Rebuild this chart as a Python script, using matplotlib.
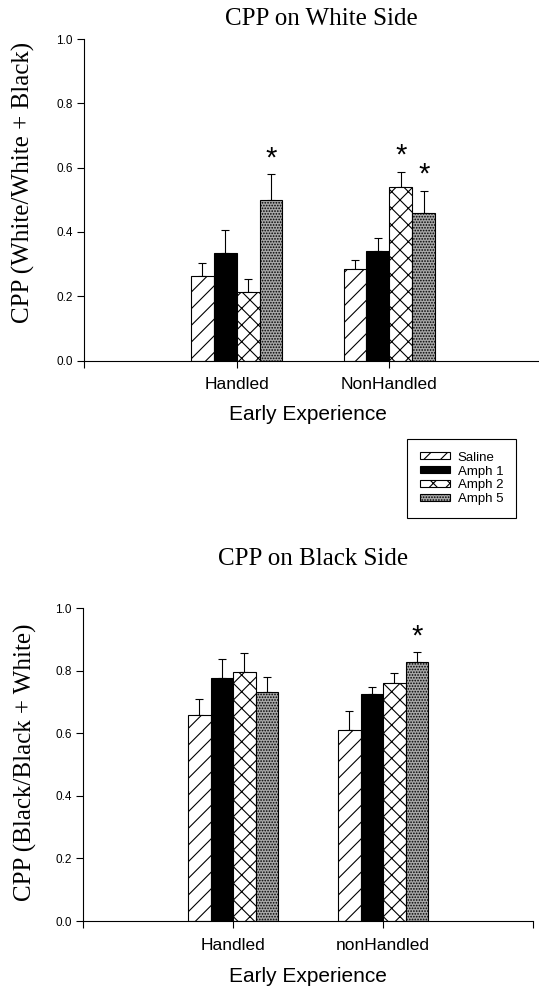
import numpy as np
import matplotlib
matplotlib.use("Agg")
import matplotlib.pyplot as plt

# groups and treatments
groups_white = ["Handled", "NonHandled"]
groups_black = ["Handled", "nonHandled"]
treatments = ["Saline", "Amph 1", "Amph 2", "Amph 5"]

# CPP on white side: means and upper error bar tops
white_mean = {
    "Saline": [0.263, 0.284],
    "Amph 1": [0.335, 0.340],
    "Amph 2": [0.214, 0.539],
    "Amph 5": [0.499, 0.458],
}
white_top = {
    "Saline": [0.302, 0.313],
    "Amph 1": [0.406, 0.382],
    "Amph 2": [0.253, 0.587],
    "Amph 5": [0.579, 0.528],
}
white_star = [("Amph 5", 0), ("Amph 2", 1), ("Amph 5", 1)]

# CPP on black side
black_mean = {
    "Saline": [0.660, 0.611],
    "Amph 1": [0.776, 0.727],
    "Amph 2": [0.797, 0.762],
    "Amph 5": [0.731, 0.829],
}
black_top = {
    "Saline": [0.711, 0.671],
    "Amph 1": [0.837, 0.747],
    "Amph 2": [0.858, 0.792],
    "Amph 5": [0.781, 0.860],
}
black_star = [("Amph 5", 1)]

styles = {
    "Saline": dict(facecolor="white", hatch="//"),
    "Amph 1": dict(facecolor="black", hatch=None),
    "Amph 2": dict(facecolor="white", hatch="xx"),
    "Amph 5": dict(facecolor="#a8a8a8", hatch="......"),
}

sans = "Liberation Sans"
serif = "Liberation Serif"
plt.rcParams["hatch.linewidth"] = 0.8

fig = plt.figure(figsize=(5.39, 9.89), dpi=100)


def panel(ax, groups, means, tops, stars):
    x = np.arange(1, len(groups) + 1)
    w = 0.15
    handles = []
    for i, t in enumerate(treatments):
        pos = x + (i - 1.5) * w
        m = np.array(means[t])
        e = np.array(tops[t]) - m
        st = styles[t]
        b = ax.bar(pos, m, w, facecolor=st["facecolor"], hatch=st["hatch"],
                   edgecolor="black", linewidth=0.8, label=t, zorder=2)
        ax.errorbar(pos, m, yerr=[np.zeros_like(e), e], fmt="none",
                    ecolor="black", elinewidth=0.8, capsize=3.2,
                    capthick=0.8, zorder=1)
        handles.append(b)
    for t, g in stars:
        i = treatments.index(t)
        ax.text(x[g] + (i - 1.5) * w, tops[t][g] + 0.05, "*",
                ha="center", va="center", fontsize=21, family=sans)
    ax.set_xlim(0, 3)
    ax.set_ylim(0, 1)
    ax.set_xticks([0, 1, 2, 3])
    ax.set_xticklabels([""] + groups + [""], fontsize=12.5, family=sans)
    ax.set_yticks(np.arange(0, 1.01, 0.2))
    ax.set_yticklabels(["%.1f" % v for v in np.arange(0, 1.01, 0.2)],
                       fontsize=8.5, family=sans)
    ax.tick_params(direction="out", length=5, width=0.8, pad=3)
    ax.tick_params(axis="x", pad=7)
    for s in ["top", "right"]:
        ax.spines[s].set_visible(False)
    for s in ["left", "bottom"]:
        ax.spines[s].set_linewidth(0.8)
    ax.patch.set_alpha(0)
    return handles


ax1 = fig.add_axes([84 / 539, 1 - 360.5 / 989, 458 / 539, 321.5 / 989])
h = panel(ax1, groups_white, white_mean, white_top, white_star)
ax2 = fig.add_axes([83 / 539, 1 - 921 / 989, 450 / 539, 312.7 / 989])
panel(ax2, groups_black, black_mean, black_top, black_star)

fig.text(321 / 539, 1 - 19 / 989, "CPP on White Side", ha="center",
         va="center", fontsize=18, family=serif)
fig.text(313 / 539, 1 - 559 / 989, "CPP on Black Side", ha="center",
         va="center", fontsize=18, family=serif)
fig.text(23 / 539, 1 - 182 / 989, "CPP (White/White + Black)", rotation=90,
         ha="center", va="center", fontsize=18, family=serif)
fig.text(25 / 539, 1 - 762 / 989, "CPP (Black/Black + White)", rotation=90,
         ha="center", va="center", fontsize=18, family=serif)
fig.text(308 / 539, 1 - 414 / 989, "Early Experience", ha="center",
         va="center", fontsize=15, family=sans)
fig.text(308 / 539, 1 - 977 / 989, "Early Experience", ha="center",
         va="center", fontsize=15, family=sans)

leg = fig.legend(handles=h, labels=treatments, loc="upper left",
                 bbox_to_anchor=(407 / 539, 1 - 439 / 989),
                 prop={"family": sans, "size": 9.5}, frameon=True,
                 fancybox=False, edgecolor="black", framealpha=1,
                 handlelength=2.3, handleheight=0.45, handletextpad=0.6,
                 labelspacing=0.15, borderpad=0.95, borderaxespad=0)
leg.get_frame().set_linewidth(0.8)

fig.savefig("out.png", dpi=100)
